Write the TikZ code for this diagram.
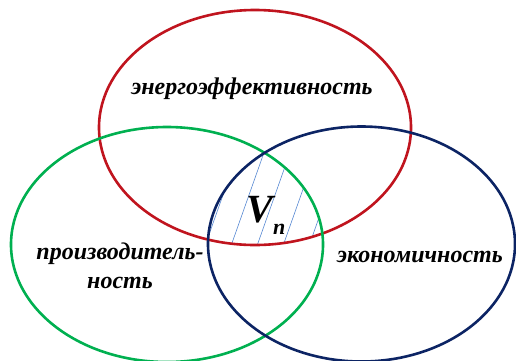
\documentclass[tikz,border=0pt]{standalone}
\usepackage{fontspec}
\setmainfont{Liberation Serif}
\definecolor{setred}{RGB}{192,20,30}
\definecolor{setgreen}{RGB}{0,176,80}
\definecolor{setblue}{RGB}{12,36,100}
\definecolor{hatchblue}{RGB}{85,135,210}
\tikzset{
  setline/.style={line width=2.6pt},
  setname/.style={font=\fontsize{24}{29}\selectfont\bfseries\itshape,
                  inner sep=0pt,align=center},
  hatchline/.style={hatchblue,line width=0.6pt},
}

\begin{document}
\begin{tikzpicture}[x=1pt,y=-1pt]
  \useasboundingbox (0,0) rectangle (516,360);
  \clip (0,0) rectangle (516,360);

  % common part of the three sets
  \begin{scope}
    \clip (255,127.5) ellipse [x radius=156,y radius=117.5];
    \clip (167,244.5) ellipse [x radius=156,y radius=117.5];
    \clip (361.5,244) ellipse [x radius=153.5,y radius=117.5];
    \foreach \x in {174,200,...,330}
      \draw[hatchline] (\x,260) -- ++(38.9,-110);
  \end{scope}

  \draw[setline,setred] (255,127.5) ellipse [x radius=156,y radius=117.5];
  \draw[setline,setgreen] (167,244.5) ellipse [x radius=156,y radius=117.5];
  \draw[setline,setblue] (361.5,244) ellipse [x radius=153.5,y radius=117.5];

  \node[setname] (energy) at (252,89) {энергоэффективность};
  \node[setname] (product) at (120,266) {производитель-\\ность};
  \node[setname] (econ) at (420,257) {экономичность};
  \node[font=\fontsize{40}{42}\selectfont\bfseries\itshape,inner sep=0pt]
    (vn) at (266,215) {V\raisebox{-0.3em}{\fontsize{22}{22}\selectfont n}};
\end{tikzpicture}
\end{document}
